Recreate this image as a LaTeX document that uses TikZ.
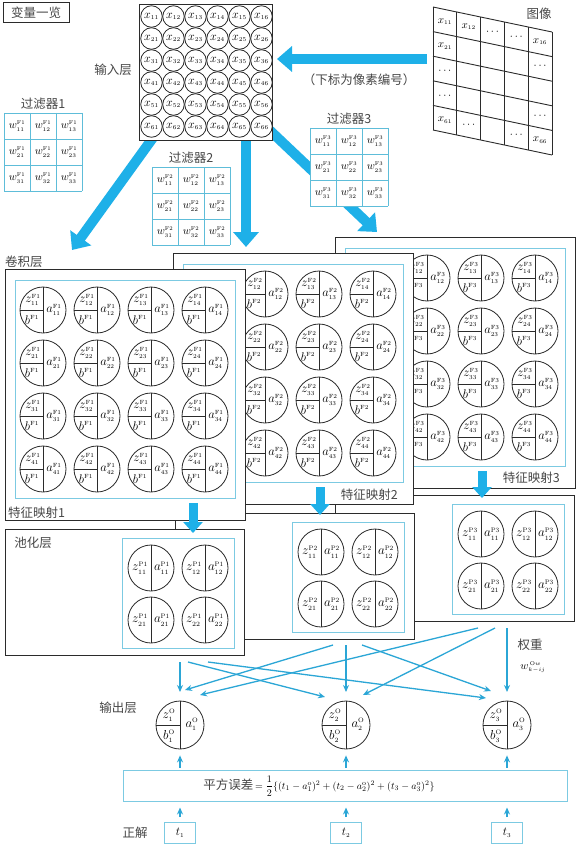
\RequirePackage{fix-cm}
\documentclass[tikz,border=0pt]{standalone}
\usepackage{fontspec}
\newfontfamily\cjk{Noto Sans CJK SC}
\usetikzlibrary{arrows.meta,calc}
\DeclareMathSizes{10}{10}{7}{5}
\DeclareMathSizes{11}{11}{5.5}{4.5}
\DeclareMathSizes{12}{12}{6}{5}
\DeclareMathSizes{12.5}{12.5}{6}{5}
\DeclareMathSizes{13}{13}{6.5}{5}
\definecolor{bigblue}{HTML}{1EB0E8}
\definecolor{lineblue}{HTML}{7CCAE2}
\definecolor{gridblue}{HTML}{5EBDD9}
\definecolor{arrblue}{HTML}{2BA6D6}
\definecolor{ink}{HTML}{2B2B2B}
\definecolor{cjkink}{HTML}{474747}
\tikzset{
  bigarrow/.style={draw=bigblue, line width=10pt, -{Triangle[length=15pt,width=25pt]}},
  midarrow/.style={draw=bigblue, line width=9pt, -{Triangle[length=11pt,width=19pt]}},
  thinarrow/.style={draw=arrblue, line width=1.3pt, -{Stealth[length=7pt,width=6pt]}},
  cjklabel/.style={font=\cjk\fontsize{12.5}{13}\selectfont, text=cjkink, inner sep=0pt},
  outerbox/.style={draw=ink, line width=0.9pt, fill=white, inner sep=0pt, anchor=north west},
  innerbox/.style={draw=lineblue, line width=1.1pt, inner sep=0pt, anchor=north west},
  filtline/.style={draw=gridblue, line width=0.9pt},
  gridln/.style={draw=ink, line width=0.9pt},
  incirc/.style={circle, draw=ink, line width=0.8pt, minimum size=21.5pt, inner sep=0pt, font=\fontsize{12}{12}\selectfont},
  bigcirc/.style={circle, draw=ink, line width=0.8pt, fill=white, minimum size=46pt, inner sep=0pt},
  outcirc/.style={circle, draw=ink, line width=0.8pt, fill=white, minimum size=48pt, inner sep=0pt},
  divline/.style={draw=ink, line width=0.7pt},
  celltext/.style={inner sep=0pt, font=\fontsize{12.5}{12.5}\selectfont},
  pooltext/.style={inner sep=0pt, font=\fontsize{13}{13}\selectfont},
  outtext/.style={inner sep=0pt, font=\fontsize{13}{13}\selectfont},
  wtext/.style={inner sep=0pt, font=\fontsize{11}{11}\selectfont},
  imtext/.style={inner sep=0pt, font=\fontsize{11}{11}\selectfont},
  tbox/.style={draw=lineblue, line width=1pt, minimum width=31pt, minimum height=21pt, inner sep=0pt, font=\fontsize{12}{12}\selectfont},
}
\newcommand\convcell[5]{%
  \node[bigcirc] (#1) at (#2,#3) {};
  \draw[divline] (#1.north) -- (#1.south);
  \draw[divline] (#1.west) -- (#1.center);
  \node[celltext] (#1z) at ($(#1)+(-10,-10)$) {$z^{\mathrm{#4}}_{#5}$};
  \node[celltext] (#1b) at ($(#1)+(-11,10)$) {$b^{\mathrm{#4}}$};
  \node[celltext] (#1a) at ($(#1)+(11,0)$) {$a^{\mathrm{#4}}_{#5}$};
}
\newcommand\poolcell[5]{%
  \node[bigcirc] (#1) at (#2,#3) {};
  \draw[divline] (#1.north) -- (#1.south);
  \node[pooltext] (#1z) at ($(#1)+(-11,0)$) {$z^{\mathrm{#4}}_{#5}$};
  \node[pooltext] (#1a) at ($(#1)+(11,0)$) {$a^{\mathrm{#4}}_{#5}$};
}
\newcommand\outcell[4]{%
  \node[outcirc] (#1) at (#2,#3) {};
  \draw[divline] (#1.north) -- (#1.south);
  \draw[divline] (#1.west) -- (#1.center);
  \node[outtext] (#1z) at ($(#1)+(-11,-10)$) {$z^{\mathrm{O}}_{#4}$};
  \node[outtext] (#1b) at ($(#1)+(-11,11)$) {$b^{\mathrm{O}}_{#4}$};
  \node[outtext] (#1a) at ($(#1)+(12,-1)$) {$a^{\mathrm{O}}_{#4}$};
}
% #1 map number, #2 x0, #3 y0, #4 first visible column
\newcommand\featmap[4]{%
  \node[outerbox, minimum width=240pt, minimum height=251pt] (fm#1) at (#2,#3) {};
  \node[innerbox, minimum width=220pt, minimum height=218pt] (fmi#1) at ({#2+10},{#3+11}) {};
  \foreach \ri in {1,...,4}{\foreach \ci in {#4,...,4}{
    \pgfmathsetmacro\fcx{#2+38+54*(\ci-1)}
    \pgfmathsetmacro\fcy{#3+41+53*(\ri-1)}
    \convcell{c#1-\ri\ci}{\fcx}{\fcy}{F#1}{\ri\ci}
  }}
}
\newcommand\poolmap[3]{%
  \node[outerbox, minimum width=239pt, minimum height=126pt] (pm#1) at (#2,#3) {};
  \node[innerbox, minimum width=112pt, minimum height=110pt] (pmi#1) at ({#2+117},{#3+9}) {};
  \foreach \ri in {1,2}{\foreach \ci in {1,2}{
    \pgfmathsetmacro\fcx{#2+146+54*(\ci-1)}
    \pgfmathsetmacro\fcy{#3+39+52*(\ri-1)}
    \poolcell{p#1-\ri\ci}{\fcx}{\fcy}{P#1}{\ri\ci}
  }}
}
\newcommand\filtgrid[3]{%
  \fill[white] (#2,#3) rectangle ({#2+78},{#3+78});
  \foreach \kk in {0,...,3}{
    \draw[filtline] ({#2+26*\kk},#3) -- ({#2+26*\kk},{#3+78});
    \draw[filtline] (#2,{#3+26*\kk}) -- ({#2+78},{#3+26*\kk});
  }
  \foreach \ri in {1,2,3}{\foreach \ci in {1,2,3}{
    \node[wtext] (w#1-\ri\ci) at ({#2+13+26*(\ci-1)},{#3+13+26*(\ri-1)}) {$w^{\mathrm{F#1}}_{\ri\ci}$};
  }}
  \node[cjklabel] (flab#1) at ({#2+39},{#3-9}) {过滤器#1};
}
\begin{document}
\begin{tikzpicture}[x=1pt, y=-1pt]
\useasboundingbox (0,0) rectangle (576,848);
\fill[white] (0,0) rectangle (576,848);

% big arrows from input layer (behind it)
\coordinate (a1s) at (160,128); \coordinate (a1t) at (72,250);
\coordinate (a2s) at (246,125); \coordinate (a2t) at (246,247);
\coordinate (a3s) at (262,123); \coordinate (a3t) at (377,232);
\coordinate (ais) at (427,59);  \coordinate (ait) at (277,59);
\draw[bigarrow] (a1s) -- (a1t);
\draw[bigarrow] (a2s) -- (a2t);
\draw[bigarrow] (a3s) -- (a3t);
\draw[bigarrow] (ais) -- (ait);

% title box
\node[cjklabel, draw=ink, line width=1pt, minimum width=66pt, minimum height=20pt] (title) at (36,13) {变量一览};

% input layer
\node[outerbox, minimum width=133pt, minimum height=136pt] (inbox) at (139,4) {};
\foreach \ri in {1,...,6}{\foreach \ci in {1,...,6}{
  \node[incirc] (in\ri\ci) at ({151.5+22*(\ci-1)},{16.5+22*(\ri-1)}) {$x_{\ri\ci}$};
}}
\node[cjklabel] (inlab) at (113,70) {输入层};
\node[cjklabel] (sublab) at (359,80) {（下标为像素编号）};

% image grid
\foreach \kk in {0,...,5}{
  \draw[gridln] ({433+23.8*\kk},{7+5*\kk}) -- ({433+23.8*\kk},{130+5*\kk});
  \draw[gridln] (433,{7+24.6*\kk}) -- (552,{32+24.6*\kk});
}
\foreach \ri/\ci/\txt in {1/1/{x_{11}},1/2/{x_{12}},1/3/\cdots,1/4/\cdots,1/5/{x_{16}},2/1/{x_{21}},2/5/\cdots,3/1/\cdots,4/1/\cdots,4/5/\cdots,5/1/{x_{61}},5/2/\cdots,5/4/\cdots,5/5/{x_{66}}}{
  \node[imtext] (im\ri\ci) at ({433+23.8*(\ci-0.5)},{7+24.6*(\ri-0.5)+5*(\ci-0.5)}) {$\txt$};
}
\node[cjklabel] (imlab) at (539,14) {图像};

% filters
\filtgrid{1}{4}{113}
\filtgrid{2}{152}{167}
\filtgrid{3}{310}{128}

% convolution layer and pooling layer
\node[cjklabel] (convlab) at (24,262) {卷积层};
\featmap{3}{335}{237}{2}
\node[cjklabel, anchor=east] (fmlab3) at (560,478) {特征映射3};
\poolmap{3}{335}{495}
\featmap{2}{173}{253}{2}
\node[cjklabel, anchor=east] (fmlab2) at (398,495) {特征映射2};
\poolmap{2}{175}{513}
\featmap{1}{5}{269}{1}
\node[cjklabel, anchor=west] (fmlab1) at (8,513) {特征映射1};
\poolmap{1}{5}{529}
\node[cjklabel] (poollab) at (33,543) {池化层};

% arrows feature map -> pooling
\coordinate (m1s) at (193,503); \coordinate (m1t) at (193,533);
\coordinate (m2s) at (320,487); \coordinate (m2t) at (320,515);
\coordinate (m3s) at (482,471); \coordinate (m3t) at (482,498);
\draw[midarrow] (m1s) -- (m1t);
\draw[midarrow] (m2s) -- (m2t);
\draw[midarrow] (m3s) -- (m3t);

% output layer
\outcell{o1}{180}{725}{1}
\outcell{o2}{346}{725}{2}
\outcell{o3}{507}{725}{3}
\node[cjklabel] (outlab) at (118,708) {输出层};

% pooling -> output connectors
\coordinate (s1a) at (180,662); \coordinate (s1b) at (188,662); \coordinate (s1c) at (208,662);
\coordinate (s2a) at (333,645); \coordinate (s2b) at (346,645); \coordinate (s2c) at (362,645);
\coordinate (s3a) at (478,628); \coordinate (s3b) at (495,628); \coordinate (s3c) at (507,628);
\coordinate (e1a) at ($(o1)+(0,-33)$);  \coordinate (e1b) at ($(o1)+(5,-35)$);   \coordinate (e1c) at ($(o1)+(20,-30)$);
\coordinate (e2a) at ($(o2)+(-21,-28)$); \coordinate (e2b) at ($(o2)+(0,-33)$);  \coordinate (e2c) at ($(o2)+(17,-30)$);
\coordinate (e3a) at ($(o3)+(-21,-27)$); \coordinate (e3b) at ($(o3)+(-16,-34)$); \coordinate (e3c) at ($(o3)+(0,-33)$);
\draw[thinarrow] (s1a) -- (e1a);
\draw[thinarrow] (s1b) -- (e2a);
\draw[thinarrow] (s1c) -- (e3a);
\draw[thinarrow] (s2a) -- (e1b);
\draw[thinarrow] (s2b) -- (e2b);
\draw[thinarrow] (s2c) -- (e3b);
\draw[thinarrow] (s3a) -- (e1c);
\draw[thinarrow] (s3b) -- (e2c);
\draw[thinarrow] (s3c) -- (e3c);
\node[cjklabel] (wlab) at (530,645) {权重};
\node[inner sep=0pt, font=\fontsize{11}{11}\selectfont] (wsym) at (533,667) {$w^{\,\mathrm{O}w}_{k-ij}$};

% error box
\node[draw=lineblue, line width=1pt, minimum width=444pt, minimum height=31pt, inner sep=0pt] (err) at (345,785.5) {};
\node[inner sep=0pt, font=\fontsize{10}{12}\selectfont] (errtxt) at (319,786) {{\cjk\fontsize{12.5}{13}\selectfont\color{cjkink}平方误差}\,$\displaystyle =\frac{1}{2}\{(t_1-a^{\mathrm{o}}_1)^2+(t_2-a^{\mathrm{o}}_2)^2+(t_3-a^{\mathrm{o}}_3)^2\}$};
\draw[thinarrow, shorten <=2pt, shorten >=6pt] (err.north -| o1) -- (o1.south);
\draw[thinarrow, shorten <=2pt, shorten >=6pt] (err.north -| o2) -- (o2.south);
\draw[thinarrow, shorten <=2pt, shorten >=6pt] (err.north -| o3) -- (o3.south);

% correct answers
\node[tbox] (t1) at (180,833) {$t_1$};
\node[tbox] (t2) at (346,833) {$t_2$};
\node[tbox] (t3) at (507,833) {$t_3$};
\node[cjklabel] (anslab) at (135,833) {正解};
\draw[thinarrow, shorten <=5pt, shorten >=6pt] (t1.north) -- (t1.north |- err.south);
\draw[thinarrow, shorten <=5pt, shorten >=6pt] (t2.north) -- (t2.north |- err.south);
\draw[thinarrow, shorten <=5pt, shorten >=6pt] (t3.north) -- (t3.north |- err.south);
\end{tikzpicture}
\end{document}
